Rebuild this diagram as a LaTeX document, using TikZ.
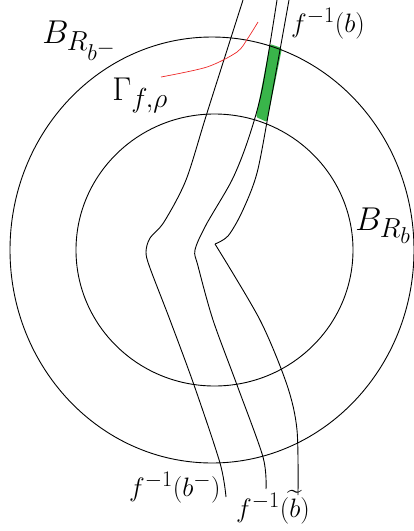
\documentclass[tikz,border=0pt]{standalone}
\usepackage{amsmath}
\definecolor{stripgreen}{RGB}{57,181,74}
\definecolor{gammared}{RGB}{237,40,40}
\begin{document}
\begin{tikzpicture}[x=1pt,y=-1pt,
  curve/.style={line width=0.9pt, black},
  biglbl/.style={font=\Huge, scale=1.326, inner sep=0pt, anchor=base west},
  lbl/.style={font=\Huge, scale=1.07, inner sep=0pt, anchor=base west}]
\useasboundingbox (0,0) rectangle (414,531);
% green strip
\fill[stripgreen, rounded corners=1.5pt] (270,44) -- (282,48) -- (267,122) -- (256,117) -- cycle;
% balls
\draw[curve] (212,250) ellipse [x radius=202pt, y radius=213pt];
\draw[curve] (214.5,250) ellipse [x radius=138.5pt, y radius=136pt];
% curve A : f^{-1}(b^-)
\draw[curve] plot[smooth, tension=0.5] coordinates {(243,0) (207,113) (186,180) (164,222) (150,238) (146,252) (150,268) (170,320) (194,385) (220,463) (226,497)};
% curve B
\draw[curve] plot[smooth, tension=0.5] coordinates {(277,0) (262,90) (248,140) (232,180) (206,225) (195,250) (198,266) (213,320) (237,385) (263,457) (266,489)};
% curve C
\draw[curve] plot[smooth, tension=0.5] coordinates {(289,0) (270,105) (257,173) (242,212) (228,236) (215,244)};
\draw[curve] plot[smooth, tension=0.5] coordinates {(215,244) (260,320) (287,385) (297,430) (298,495)};
% red Gamma curve
\draw[gammared, line width=0.7pt] plot[smooth, tension=0.5] coordinates {(161,77) (207,67) (237,52) (248,38) (258,22)};
% labels
\node[biglbl] (Bout) at (42,43) {$B_{R_{b^-}}$};
\node[biglbl] (Gam) at (112,100) {$\Gamma_{f,\rho}$};
\node[lbl] (fb) at (291,32) {$f^{-1}(b)$};
\node[biglbl] (Bin) at (355,230) {$B_{R_b}$};
\node[lbl] (fbm) at (129,496) {$f^{-1}(b^-)$};
\node[lbl] (fbt) at (236,517) {$f^{-1}(\widetilde{b})$};
\end{tikzpicture}
\end{document}
